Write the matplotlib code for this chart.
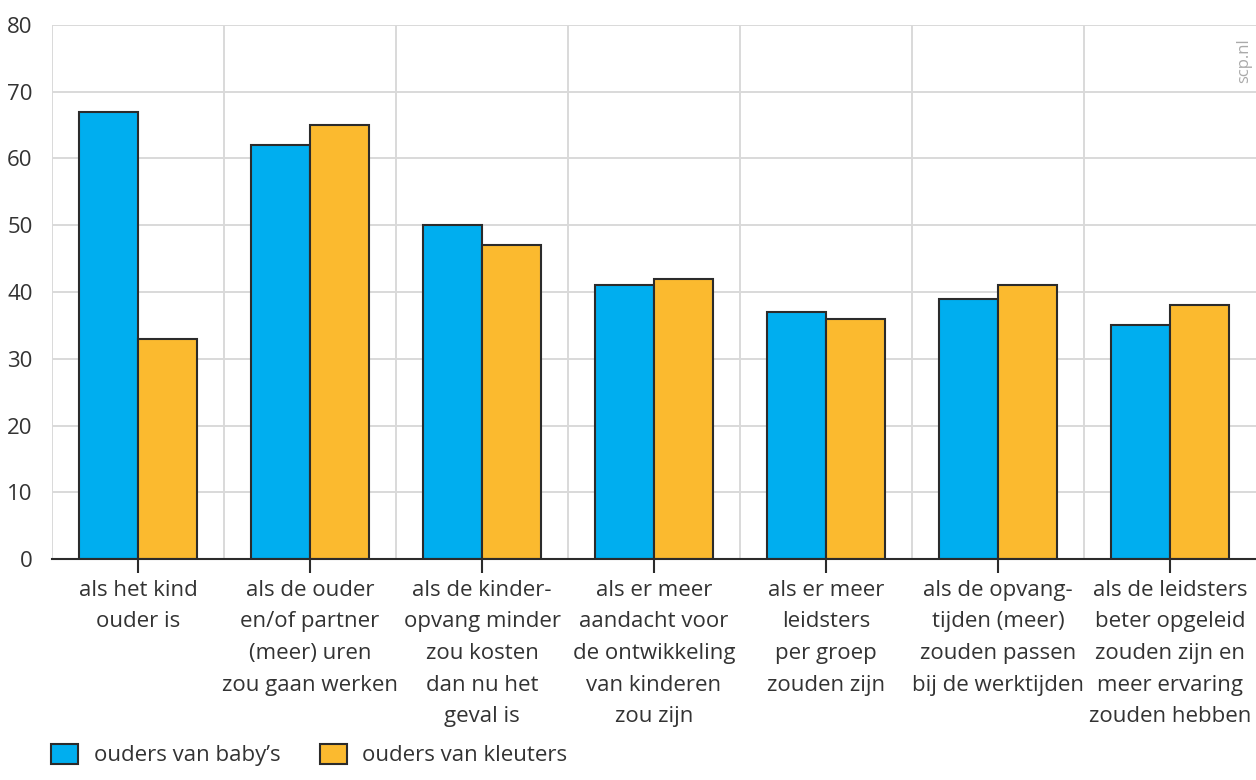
import numpy as np
import matplotlib
matplotlib.use("Agg")
import matplotlib.pyplot as plt
from matplotlib.patches import Patch

plt.rcParams['font.family'] = ['Open Sans', 'DejaVu Sans']

# Data
categories = [
    "als het kind\nouder is",
    "als de ouder\nen/of partner\n(meer) uren\nzou gaan werken",
    "als de kinder-\nopvang minder\nzou kosten\ndan nu het\ngeval is",
    "als er meer\naandacht voor\nde ontwikkeling\nvan kinderen\nzou zijn",
    "als er meer\nleidsters\nper groep\nzouden zijn",
    "als de opvang-\ntijden (meer)\nzouden passen\nbij de werktijden",
    "als de leidsters\nbeter opgeleid\nzouden zijn en\nmeer ervaring\nzouden hebben",
]
babys = [67, 62, 50, 41, 37, 39, 35]
kleuters = [33, 65, 47, 42, 36, 41, 38]
series_names = ["ouders van baby\u2019s", "ouders van kleuters"]
yticks = [0, 10, 20, 30, 40, 50, 60, 70, 80]

blue = "#00aeef"
orange = "#fbba2f"
edge = "#2b2b2b"
textcol = "#333333"
gridcol = "#d9d9d9"

fig = plt.figure(figsize=(12.56, 7.8), dpi=100)
ax = fig.add_axes([52/1256, 1 - 559/780, 1 - 52/1256, (559 - 25)/780])

x = np.arange(len(categories))
w = 0.343
ax.bar(x - w/2, babys, w, color=blue, edgecolor=edge, linewidth=1.5, zorder=3)
ax.bar(x + w/2, kleuters, w, color=orange, edgecolor=edge, linewidth=1.5, zorder=3)

ax.set_xlim(-0.5, len(categories) - 0.5)
ax.set_ylim(0, 80)
ax.set_yticks(yticks)
ax.set_yticklabels([str(v) for v in yticks], fontsize=16, color=textcol)
ax.set_xticks(x)
ax.set_xticklabels(categories, fontsize=16, color=textcol, linespacing=1.66)

# grid: horizontal lines plus vertical separators between groups
for v in yticks[1:]:
    ax.axhline(v, color=gridcol, linewidth=1.4, zorder=1)
for b in np.arange(-0.5, len(categories) - 0.5, 1.0):
    ax.axvline(b, color=gridcol, linewidth=1.4, zorder=1)

for s in ["top", "right", "left"]:
    ax.spines[s].set_visible(False)
ax.spines["bottom"].set_color(edge)
ax.spines["bottom"].set_linewidth(1.5)
ax.spines["bottom"].set_zorder(4)
ax.tick_params(axis="y", length=0, pad=14)
ax.tick_params(axis="x", length=10, width=1.5, color=edge, pad=5)

ax.text(0.99, 0.975, "scp.nl", transform=ax.transAxes, rotation=90,
        ha="center", va="top", fontsize=12, color="#aaaaaa")

handles = [Patch(facecolor=blue, edgecolor=edge, linewidth=1.5),
           Patch(facecolor=orange, edgecolor=edge, linewidth=1.5)]
fig.legend(handles, series_names, loc="lower left", bbox_to_anchor=(0.025, -0.008),
           ncol=2, frameon=False, fontsize=16, handlelength=1.2, handleheight=1.0,
           handletextpad=0.7, columnspacing=1.8, labelcolor=textcol)

fig.savefig("out.png", dpi=100)
